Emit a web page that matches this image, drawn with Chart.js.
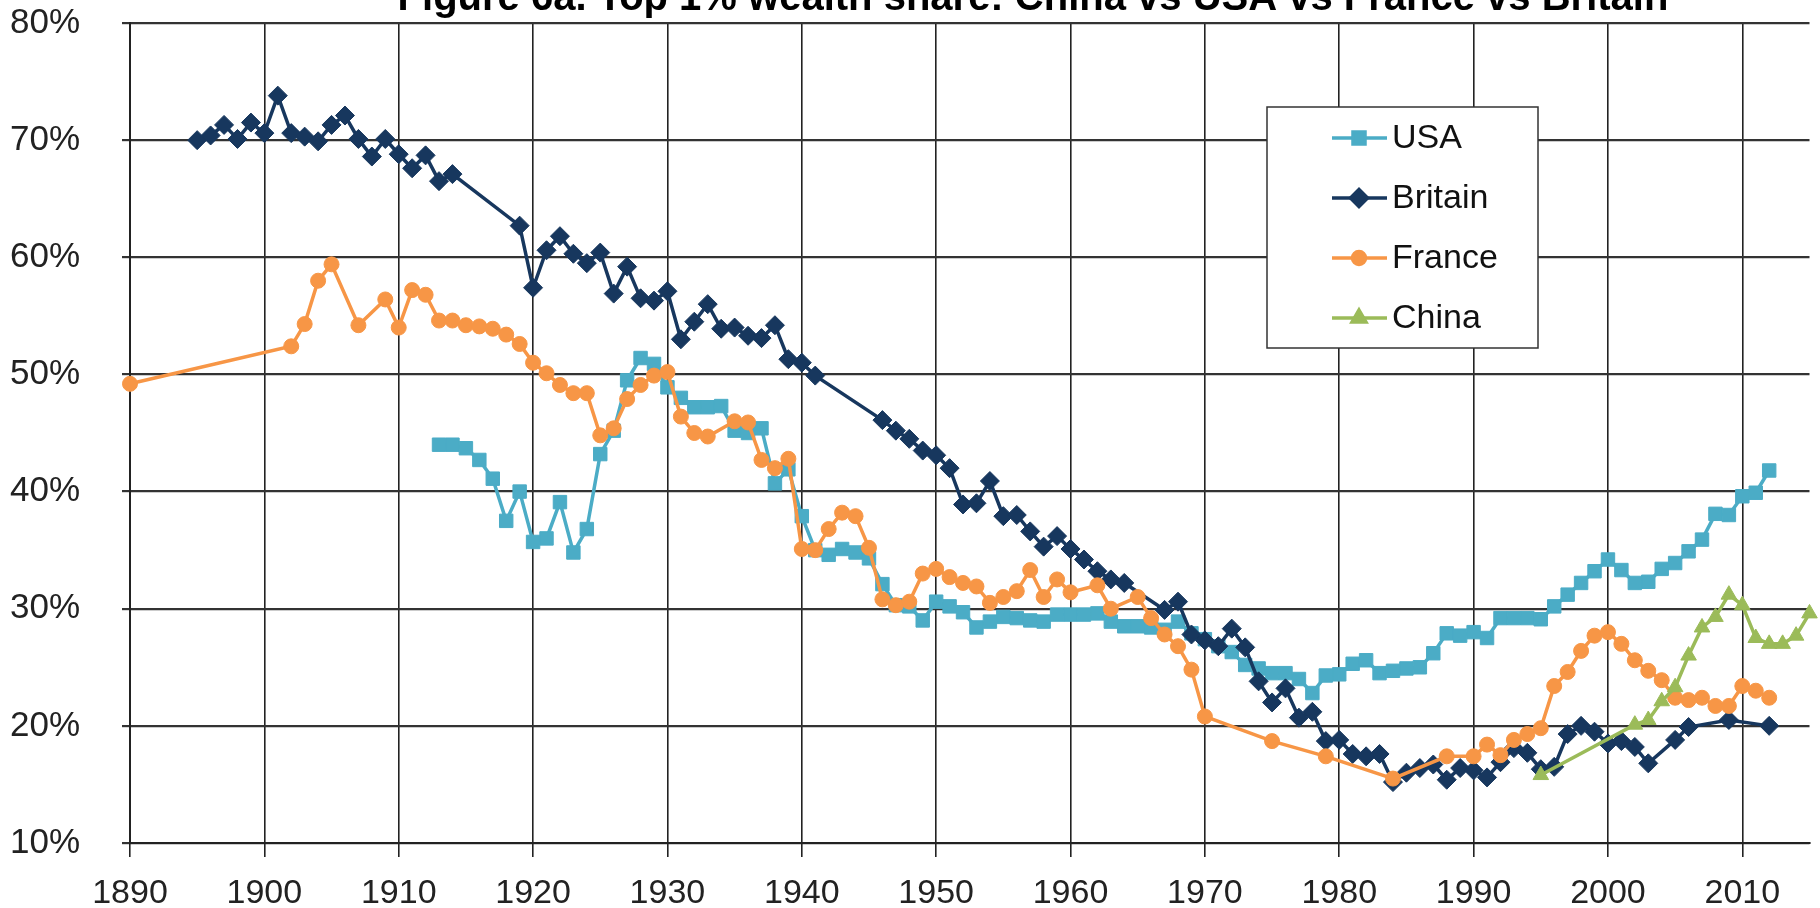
<!DOCTYPE html>
<html>
<head>
<meta charset="utf-8">
<title>Top 1% wealth share</title>
<script src="https://cdn.jsdelivr.net/npm/chart.js@4.4.1/dist/chart.umd.min.js"></script>
<style>
  html, body { margin: 0; padding: 0; background: #fff; overflow: hidden; }
  #wrap { width: 1820px; height: 908px; position: relative; }
</style>
</head>
<body>
<div id="wrap"><canvas id="wealthChart"></canvas></div>
<script>
const titleText = 'Figure 6a. Top 1% wealth share: China vs USA vs France vs Britain';

const yTickLabels = ['10%', '20%', '30%', '40%', '50%', '60%', '70%', '80%'];

// USA
const usaYears = [
    1913, 1914, 1915, 1916, 1917, 1918, 1919, 1920, 1921, 1922, 1923, 1924, 1925, 1926, 1927, 1928, 1929, 1930,
    1931, 1932, 1933, 1934, 1935, 1936, 1937, 1938, 1939, 1940, 1941, 1942, 1943, 1944, 1945, 1946, 1947, 1948,
    1949, 1950, 1951, 1952, 1953, 1954, 1955, 1956, 1957, 1958, 1959, 1960, 1961, 1962, 1963, 1964, 1965, 1966,
    1967, 1968, 1969, 1970, 1971, 1972, 1973, 1974, 1975, 1976, 1977, 1978, 1979, 1980, 1981, 1982, 1983, 1984,
    1985, 1986, 1987, 1988, 1989, 1990, 1991, 1992, 1993, 1994, 1995, 1996, 1997, 1998, 1999, 2000, 2001, 2002,
    2003, 2004, 2005, 2006, 2007, 2008, 2009, 2010, 2011, 2012
];
const usaShare = [
    44.0, 44.0, 43.7, 42.7, 41.1, 37.5, 40.0, 35.7, 36.0, 39.1, 34.8, 36.8, 43.2, 45.2, 49.5, 51.4, 50.9, 48.9,
    48.0, 47.2, 47.2, 47.3, 45.2, 45.0, 45.4, 40.7, 41.9, 37.9, 35.0, 34.6, 35.1, 34.8, 34.3, 32.1, 30.3, 30.2,
    29.0, 30.6, 30.2, 29.7, 28.4, 28.9, 29.3, 29.2, 29.0, 28.9, 29.5, 29.5, 29.5, 29.6, 28.9, 28.5, 28.5, 28.4,
    28.2, 28.9, 27.9, 27.4, 26.8, 26.3, 25.2, 24.9, 24.5, 24.5, 24.0, 22.8, 24.3, 24.4, 25.3, 25.6, 24.5, 24.7,
    24.9, 25.0, 26.2, 27.9, 27.7, 28.0, 27.5, 29.2, 29.2, 29.2, 29.1, 30.2, 31.2, 32.2, 33.2, 34.2, 33.3, 32.2,
    32.3, 33.4, 33.9, 34.9, 35.9, 38.1, 38.0, 39.6, 39.9, 41.8
];

// Britain
const britainYears = [
    1895, 1896, 1897, 1898, 1899, 1900, 1901, 1902, 1903, 1904, 1905, 1906, 1907, 1908, 1909, 1910, 1911, 1912,
    1913, 1914, 1919, 1920, 1921, 1922, 1923, 1924, 1925, 1926, 1927, 1928, 1929, 1930, 1931, 1932, 1933, 1934,
    1935, 1936, 1937, 1938, 1939, 1940, 1941, 1946, 1947, 1948, 1949, 1950, 1951, 1952, 1953, 1954, 1955, 1956,
    1957, 1958, 1959, 1960, 1961, 1962, 1963, 1964, 1967, 1968, 1969, 1970, 1971, 1972, 1973, 1974, 1975, 1976,
    1977, 1978, 1979, 1980, 1981, 1982, 1983, 1984, 1985, 1986, 1987, 1988, 1989, 1990, 1991, 1992, 1993, 1994,
    1995, 1996, 1997, 1998, 1999, 2000, 2001, 2002, 2003, 2005, 2006, 2009, 2012
];
const britainShare = [
    70.0, 70.4, 71.3, 70.1, 71.5, 70.6, 73.8, 70.6, 70.3, 69.9, 71.3, 72.1, 70.1, 68.6, 70.1, 68.8, 67.6, 68.7,
    66.5, 67.1, 62.7, 57.4, 60.6, 61.8, 60.3, 59.5, 60.4, 56.9, 59.2, 56.5, 56.3, 57.1, 53.0, 54.5, 56.0, 53.9,
    54.0, 53.3, 53.1, 54.2, 51.3, 51.0, 49.9, 46.1, 45.2, 44.5, 43.5, 43.1, 42.0, 38.9, 39.0, 40.9, 37.9, 38.0,
    36.6, 35.3, 36.2, 35.1, 34.2, 33.2, 32.5, 32.2, 29.9, 30.6, 27.8, 27.3, 26.8, 28.3, 26.7, 23.8, 22.0, 23.2,
    20.7, 21.2, 18.7, 18.8, 17.6, 17.4, 17.6, 15.2, 16.0, 16.4, 16.7, 15.4, 16.4, 16.2, 15.6, 16.9, 18.1, 17.7,
    16.3, 16.5, 19.3, 20.0, 19.5, 18.5, 18.7, 18.2, 16.8, 18.8, 19.9, 20.5, 20.0
];

// France
const franceYears = [
    1890, 1902, 1903, 1904, 1905, 1907, 1909, 1910, 1911, 1912, 1913, 1914, 1915, 1916, 1917, 1918, 1919, 1920,
    1921, 1922, 1923, 1924, 1925, 1926, 1927, 1928, 1929, 1930, 1931, 1932, 1933, 1935, 1936, 1937, 1938, 1939,
    1940, 1941, 1942, 1943, 1944, 1945, 1946, 1947, 1948, 1949, 1950, 1951, 1952, 1953, 1954, 1955, 1956, 1957,
    1958, 1959, 1960, 1962, 1963, 1965, 1966, 1967, 1968, 1969, 1970, 1975, 1979, 1984, 1988, 1990, 1991, 1992,
    1993, 1994, 1995, 1996, 1997, 1998, 1999, 2000, 2001, 2002, 2003, 2004, 2005, 2006, 2007, 2008, 2009, 2010,
    2011, 2012
];
const franceShare = [
    49.2, 52.4, 54.3, 58.0, 59.4, 54.2, 56.4, 54.0, 57.2, 56.8, 54.6, 54.6, 54.2, 54.1, 53.9, 53.4, 52.6, 51.0,
    50.1, 49.1, 48.4, 48.4, 44.8, 45.4, 47.9, 49.1, 49.9, 50.2, 46.4, 45.0, 44.7, 46.0, 45.9, 42.7, 42.0, 42.8,
    35.1, 35.0, 36.8, 38.2, 37.9, 35.2, 30.8, 30.3, 30.6, 33.0, 33.4, 32.7, 32.2, 31.9, 30.5, 31.0, 31.5, 33.3,
    31.0, 32.5, 31.4, 32.0, 30.0, 31.0, 29.2, 27.8, 26.8, 24.8, 20.8, 18.7, 17.4, 15.5, 17.4, 17.4, 18.4, 17.5,
    18.8, 19.3, 19.8, 23.4, 24.6, 26.4, 27.7, 28.0, 27.0, 25.6, 24.7, 23.9, 22.4, 22.2, 22.4, 21.7, 21.7, 23.4,
    23.0, 22.4
];

// China
const chinaYears = [1995, 2002, 2003, 2004, 2005, 2006, 2007, 2008, 2009, 2010, 2011, 2012, 2013, 2014, 2015];
const chinaShare = [15.8, 20.1, 20.5, 22.1, 23.3, 26.0, 28.4, 29.3, 31.2, 30.3, 27.5, 27.0, 27.0, 27.7, 29.6];

const FONT = "'Liberation Sans', Arial, sans-serif";

function toPoints(years, values) {
    return years.map((yr, i) => ({ x: yr, y: values[i] }));
}

function series(label, years, values, color, style, radius, order) {
    return {
        label: label,
        data: toPoints(years, values),
        borderColor: color,
        backgroundColor: color,
        borderWidth: 3.5,
        pointStyle: style,
        pointRadius: radius,
        pointBorderWidth: 1,
        pointBorderColor: color,
        pointBackgroundColor: color,
        tension: 0,
        clip: false,
        order: order
    };
}

const datasets = [
    series('USA', usaYears, usaShare, '#4BACC6', 'rect', 9.5, 4),
    series('Britain', britainYears, britainShare, '#17375E', 'rectRot', 9.5, 3),
    series('France', franceYears, franceShare, '#F79646', 'circle', 7.5, 2),
    series('China', chinaYears, chinaShare, '#9BBB59', 'triangle', 9, 1)
];

// title, cut at the top edge as in the picture
const figureTitle = {
    id: 'figureTitle',
    afterDraw(chart) {
        const ctx = chart.ctx;
        ctx.save();
        ctx.font = 'bold 40px ' + FONT;
        ctx.fillStyle = '#000';
        ctx.textAlign = 'center';
        ctx.textBaseline = 'alphabetic';
        ctx.fillText(titleText, 1033, 10);
        ctx.restore();
    }
};

// boxed legend inside the plot
const boxLegend = {
    id: 'boxLegend',
    afterDraw(chart) {
        const ctx = chart.ctx;
        const left = 1267, top = 107, w = 271, h = 241;
        ctx.save();
        ctx.fillStyle = '#fff';
        ctx.fillRect(left, top, w, h);
        ctx.strokeStyle = '#333';
        ctx.lineWidth = 1.5;
        ctx.strokeRect(left, top, w, h);
        ctx.font = '34px ' + FONT;
        ctx.textBaseline = 'middle';
        ctx.textAlign = 'left';
        ['USA', 'Britain', 'France', 'China'].forEach((name, i) => {
            const ds = chart.data.datasets.find(d => d.label === name);
            const y = 138 + i * 60;
            ctx.strokeStyle = ds.borderColor;
            ctx.lineWidth = 3.5;
            ctx.beginPath();
            ctx.moveTo(1332, y);
            ctx.lineTo(1387, y);
            ctx.stroke();
            ctx.fillStyle = ds.borderColor;
            Chart.helpers.drawPoint(ctx, {
                pointStyle: ds.pointStyle,
                radius: ds.pointRadius - 1,
                rotation: 0,
                borderWidth: 1
            }, 1359, y);
            ctx.fillStyle = '#111';
            ctx.fillText(name, 1392, y + 1);
        });
        ctx.restore();
    }
};

new Chart(document.getElementById('wealthChart'), {
    type: 'line',
    data: { datasets: datasets },
    options: {
        responsive: true,
        maintainAspectRatio: false,
        animation: false,
        devicePixelRatio: 1,
        layout: { padding: { top: 23, right: 7, left: 0, bottom: 0 } },
        plugins: {
            legend: { display: false },
            title: { display: false },
            tooltip: { enabled: false }
        },
        scales: {
            x: {
                type: 'linear',
                min: 1890,
                max: 2015,
                afterFit: s => { s.height = 65; s.paddingLeft = 0; s.paddingRight = 0; },
                ticks: {
                    stepSize: 10,
                    includeBounds: false,
                    autoSkip: false,
                    maxRotation: 0,
                    padding: 16,
                    color: '#222',
                    font: { family: FONT, size: 34 },
                    callback: v => String(v)
                },
                grid: { color: '#222', lineWidth: 1.6, tickLength: 14 },
                border: { color: '#222', width: 2 }
            },
            y: {
                min: 10,
                max: 80,
                afterFit: s => { s.width = 130; s.paddingTop = 0; s.paddingBottom = 0; },
                ticks: {
                    stepSize: 10,
                    padding: 42,
                    color: '#222',
                    font: { family: FONT, size: 35 },
                    callback: v => yTickLabels[Math.round(v / 10) - 1]
                },
                grid: { color: '#333', lineWidth: 2.2, tickLength: 8 },
                border: { color: '#222', width: 2 }
            }
        }
    },
    plugins: [figureTitle, boxLegend]
});
</script>
</body>
</html>
